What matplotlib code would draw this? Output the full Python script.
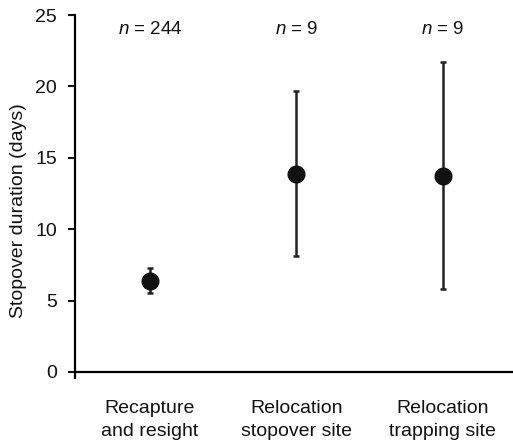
import matplotlib
matplotlib.use("Agg")
import matplotlib.pyplot as plt

plt.rcParams['font.family'] = ['Liberation Sans', 'DejaVu Sans']
plt.rcParams['mathtext.fontset'] = 'custom'
plt.rcParams['mathtext.it'] = 'Liberation Sans:italic'
plt.rcParams['mathtext.rm'] = 'Liberation Sans'

categories = ["Recapture\nand resight", "Relocation\nstopover site", "Relocation\ntrapping site"]
means = [6.4, 13.9, 13.75]
upper = [7.25, 19.65, 21.7]
lower = [5.5, 8.15, 5.8]
n_labels = ["244", "9", "9"]
yticks = [0, 5, 10, 15, 20, 25]

fig = plt.figure(figsize=(5.13, 4.42), dpi=100)
ax = fig.add_axes([0.146, 0.1455, 0.854, 0.8205])
for s in ['top', 'right']:
    ax.spines[s].set_visible(False)
ax.spines['bottom'].set_position(('data', 0))
ax.spines['left'].set_linewidth(1.6)
ax.spines['bottom'].set_linewidth(1.6)

x = list(range(len(categories)))
yerr = [[m - l for m, l in zip(means, lower)], [u - m for m, u in zip(means, upper)]]
ax.errorbar(x, means, yerr=yerr, fmt='o', color='#111111', ecolor='#222222',
            markersize=12, elinewidth=1.8, capsize=2.5, capthick=1.8)

for xi, n in zip(x, n_labels):
    ax.text(xi, 24.0, f"$n$ = {n}", ha='center', va='center', fontsize=13.5, color='#111111')

ax.set_xlim(-0.512, 2.48)
ax.set_ylim(-0.4, 25)
ax.set_yticks(yticks)
ax.set_xticks(x)
ax.set_xticklabels(categories, linespacing=1.45)
ax.tick_params(axis='x', length=0, pad=20, labelsize=14, colors='#111111')
ax.tick_params(axis='y', direction='out', length=5, width=1.5, labelsize=14, colors='#111111', pad=8)
ax.set_ylabel("Stopover duration (days)", fontsize=14, color='#111111')
ax.yaxis.set_label_coords(-0.11, 0.46)

fig.savefig("out.png", dpi=100)
